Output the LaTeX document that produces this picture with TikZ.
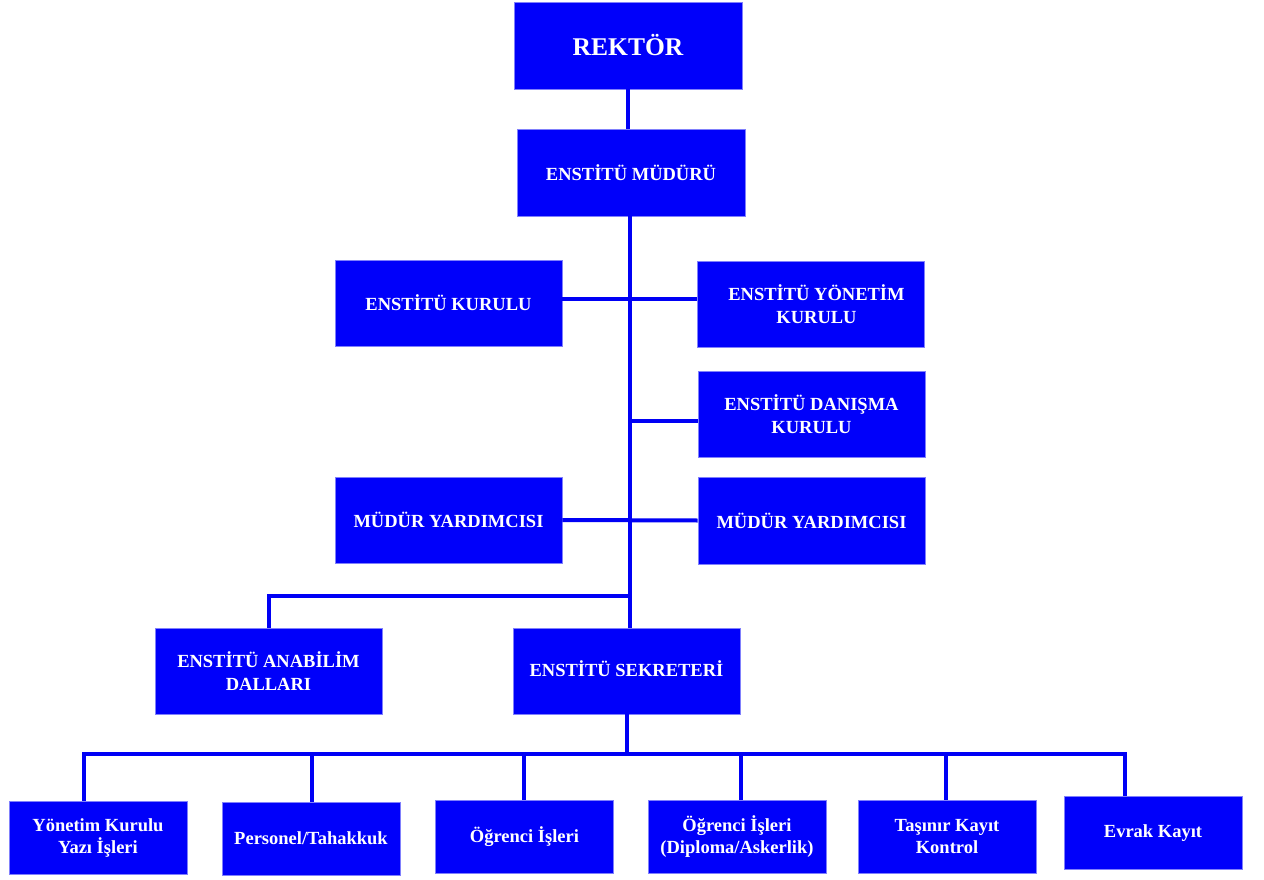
\documentclass[tikz,border=0pt]{standalone}
\usepackage{fontspec}
\setmainfont{Liberation Serif}
\definecolor{obox}{RGB}{0,0,250}
\definecolor{oline}{RGB}{0,0,245}
\begin{document}
\begin{tikzpicture}[x=1pt,y=-1pt,
  box/.style={fill=obox, draw=obox!50!white, line width=0.8pt, text=white,
    font=\bfseries\fontsize{18.5}{23.5}\selectfont, align=center, inner sep=0pt,
    minimum width=227pt, minimum height=86pt},
  sbox/.style={box, minimum width=178pt, minimum height=73pt, font=\bfseries\fontsize{18.5}{22}\selectfont},
  conn/.style={draw=oline, line width=4pt}]
\useasboundingbox (0,0) rectangle (1264,880);

\node[box, minimum width=228pt, minimum height=87pt, font=\bfseries\fontsize{25.5}{30}\selectfont] (rektor) at (628,45.5) {REKTÖR};
\node[box, minimum width=228pt, minimum height=87pt] (mudur) at (631,172.5) {ENSTİTÜ MÜDÜRÜ};
\node[box] (kurul) at (448.5,303) {ENSTİTÜ KURULU};
\node[box] (yonetim) at (810.5,304) {\hspace*{12pt}ENSTİTÜ YÖNETİM\\\hspace*{12pt}KURULU};
\node[box] (danisma) at (811.5,414) {ENSTİTÜ DANIŞMA\\KURULU};
\node[box] (yardL) at (448.5,520) {MÜDÜR YARDIMCISI};
\node[box, minimum height=87pt] (yardR) at (811.5,520.5) {MÜDÜR YARDIMCISI};
\node[box] (anabilim) at (268.5,671) {ENSTİTÜ ANABİLİM\\DALLARI};
\node[box] (sekreter) at (626.5,671) {\raisebox{5pt}{ENSTİTÜ SEKRETERİ}};

\node[sbox] (b1) at (98,837.5) {Yönetim Kurulu\\Yazı İşleri};
\node[sbox] (b2) at (311,838.5) {Personel/Tahakkuk};
\node[sbox] (b3) at (524.5,837) {Öğrenci İşleri};
\node[sbox] (b4) at (737,836.5) {Öğrenci İşleri\\(Diploma/Askerlik)};
\node[sbox] (b5) at (947,836.5) {Taşınır Kayıt\\Kontrol};
\node[sbox] (b6) at (1153,833) {Evrak Kayıt};

\coordinate (d1) at (84,754);
\coordinate (d2) at (312,754);
\coordinate (d3) at (524,754);
\coordinate (d4) at (741,754);
\coordinate (d5) at (946,754);
\coordinate (d6) at (1125,754);
\coordinate (aj) at (630,596);
\coordinate (dj) at ([yshift=-7pt]danisma.west);
\coordinate (kj) at ([yshift=4.5pt]kurul.east);

% trunk
\draw[conn] (rektor.south) -- (rektor.south |- mudur.north);
\draw[conn] (mudur.south -| aj) -- (aj |- sekreter.north);
% side branches
\draw[conn] (kj) -- (kj -| yonetim.west);
\draw[conn] (dj) -- (dj -| aj);
\draw[conn] (yardL.east) -- (yardR.west);
\draw[conn] (aj) -| (anabilim.north);
% secretary to bus
\draw[conn] (sekreter.south) -- (sekreter.south |- d1);
\draw[conn] (d1 |- b1.north) -- (d1) -- (d6) -- (d6 |- b6.north);
\draw[conn] (d2) -- (d2 |- b2.north);
\draw[conn] (d3) -- (d3 |- b3.north);
\draw[conn] (d4) -- (d4 |- b4.north);
\draw[conn] (d5) -- (d5 |- b5.north);
\end{tikzpicture}
\end{document}
